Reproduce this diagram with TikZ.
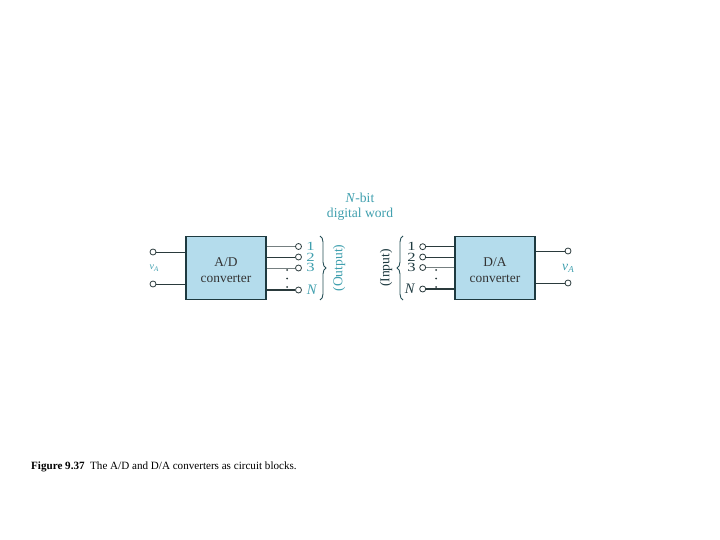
\documentclass[tikz,border=0pt]{standalone}
\usepackage{graphicx}
\usepackage{fontspec}
\setmainfont{Liberation Serif}
\usetikzlibrary{decorations.pathreplacing}
\definecolor{tealtxt}{HTML}{3F9FAE}
\definecolor{boxfill}{HTML}{B4DCEC}
\definecolor{boxline}{HTML}{1E3A40}
\definecolor{wirec}{HTML}{2A3A3C}
\newcommand{\squash}[1]{\scalebox{1.15}[0.86]{#1}}
\tikzset{
  blockbox/.style={draw=boxline,fill=boxfill,line width=1.3pt,minimum width=80pt,minimum height=63.5pt,inner sep=0pt,align=center,font=\fontsize{13.4}{16}\selectfont,text=black!80},
  term/.style={circle,draw=wirec,fill=white,line width=0.8pt,minimum size=6pt,inner sep=0pt},
  wire/.style={draw=wirec,line width=0.8pt},
  thinwire/.style={draw=wirec!65,line width=0.6pt},
  heavywire/.style={draw=wirec,line width=1.1pt},
  lab/.style={text=tealtxt,font=\fontsize{14.5}{14}\selectfont,inner sep=0pt},
  smalllab/.style={text=tealtxt,font=\fontsize{13.6}{15.5}\selectfont,inner sep=0pt},
  dotmark/.style={circle,fill=wirec,minimum size=2pt,inner sep=0pt},
  bracec/.style={draw=boxline!80!tealtxt,line width=0.9pt,decorate},
}
\begin{document}
\begin{tikzpicture}[x=1pt,y=-1pt]
\useasboundingbox (0,0) rectangle (720,540);
\node[blockbox] (ad) at (226,268) {\rule{0pt}{12.5pt}A/D\\[0pt]converter};
\node[blockbox] (da) at (495,268) {\rule{0pt}{12.5pt}D/A\\[0pt]converter};
% A/D terminals
\node[term] (ai1) at (153,252) {};
\node[term] (ai2) at (153,284) {};
\node[term] (ao1) at (298.5,246.5) {};
\node[term] (ao2) at (298.5,257) {};
\node[term] (ao3) at (298.5,268) {};
\node[term] (aoN) at (298.5,290) {};
\draw[wire] (ai1) -- (ai1 -| ad.west);
\draw[wire] (ai2) -- (ai2 -| ad.west);
\draw[thinwire] (ao1) -- (ao1 -| ad.east);
\draw[wire] (ao2) -- (ao2 -| ad.east);
\draw[thinwire] (ao3) -- (ao3 -| ad.east);
\draw[heavywire] (aoN) -- (aoN -| ad.east);
% D/A terminals
\node[term] (di1) at (422.7,246.7) {};
\node[term] (di2) at (422.7,257) {};
\node[term] (di3) at (422.7,267.5) {};
\node[term] (diN) at (422.7,289) {};
\node[term] (do1) at (568,251) {};
\node[term] (do2) at (568,283) {};
\draw[wire] (di1) -- (di1 -| da.west);
\draw[wire] (di2) -- (di2 -| da.west);
\draw[thinwire] (di3) -- (di3 -| da.west);
\draw[heavywire] (diN) -- (diN -| da.west);
\draw[wire] (do1) -- (do1 -| da.east);
\draw[wire] (do2) -- (do2 -| da.east);
% dots
\node[dotmark] (ad1) at (287,270) {};
\node[dotmark] (ad2) at (287,278.5) {};
\node[dotmark] (ad3) at (287,287) {};
\node[dotmark] (dd1) at (436,270) {};
\node[dotmark] (dd2) at (436,278.5) {};
\node[dotmark] (dd3) at (436,287) {};
% labels
\node[smalllab] (vl) at (154,268) {\fontsize{10}{10}\selectfont\textit{v}\raisebox{-1.5pt}{\fontsize{7}{8}\selectfont\textit{A}}};
\node[lab] (n1) at (310.5,246.5) {\squash{1}};
\node[lab] (n2) at (310.5,257) {\squash{2}};
\node[lab] (n3) at (310.5,267.5) {\squash{3}};
\node[lab] (nN) at (312,290) {\textit{N}};
\node[lab,text=boxline] (m1) at (411.5,246.5) {\squash{1}};
\node[lab,text=boxline] (m2) at (411.5,257) {\squash{2}};
\node[lab,text=boxline] (m3) at (411.5,267.5) {\squash{3}};
\node[lab,text=boxline] (mN) at (410,289) {\textit{N}};
\node[smalllab] (vr) at (568,268) {\textit{v}\raisebox{-2pt}{\fontsize{9}{10}\selectfont\textit{A}}};
\node[smalllab,rotate=90] (outl) at (339,268) {(Output)};
\node[smalllab,rotate=90,text=boxline] (inl) at (386,268) {(Input)};
\node[smalllab,align=center] (word) at (360,206.5) {\textit{N}-bit\\digital word};
% braces
\coordinate (b1t) at (320,236);
\coordinate (b1b) at (320,300);
\coordinate (b2t) at (403,236);
\coordinate (b2b) at (403,300);
\draw[bracec,decoration={brace,amplitude=6pt}] (b1t) -- (b1b);
\draw[bracec,decoration={brace,mirror,amplitude=6pt}] (b2t) -- (b2b);
% caption
\node[anchor=west,inner sep=0pt,text=black,font=\fontsize{11.1}{12}\selectfont] (cap) at (31,467) {\textbf{Figure 9.37}\ \ The A/D and D/A converters as circuit blocks.};
\end{tikzpicture}
\end{document}
